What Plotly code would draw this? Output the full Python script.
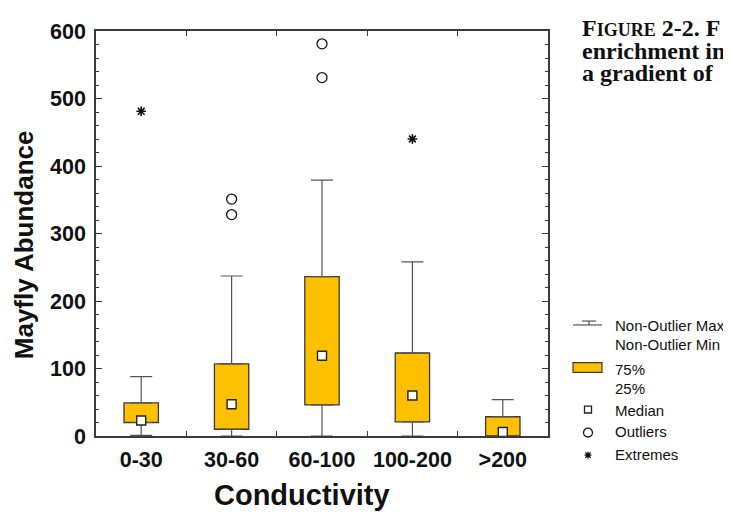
import plotly.graph_objects as go

# ---------------- data ----------------
categories = ["0-30", "30-60", "60-100", "100-200", ">200"]
q1 = [20, 10, 46, 21, 0]
median = [23, 47, 119, 60, 6]
q3 = [49, 107, 236, 123, 28.5]
whisker_min = [1, 0, 0, 0, 0]
whisker_max = [88, 237, 379, 258, 54]
outlier_x = ["30-60", "30-60", "60-100", "60-100"]
outlier_y = [351, 328, 581, 531]
extreme_x = ["0-30", "100-200"]
extreme_y = [481, 440]
y_ticks = [0, 100, 200, 300, 400, 500, 600]

# ---------------- style ----------------
BOX_FILL = "#FFC000"
EDGE = "#3a3a3a"
WHISK = "#555555"
FONT = "Arial, Liberation Sans, Helvetica, sans-serif"
SERIF = "Times New Roman, Liberation Serif, serif"

# page body has an 8px margin: the figure is placed at (8, 8) in the window
OFF = 8
W, H = 731 - OFF, 512 - OFF
# plot area in window pixels
PX0, PX1, PY0, PY1 = 96, 548, 22, 436
L, T = PX0 - OFF, PY0 - OFF
R, B = W - (PX1 - OFF), H - (PY1 - OFF)
PW, PH = PX1 - PX0, PY1 - PY0


def px(x):
    return (x - PX0) / PW


def py(y):
    return (PY1 - y) / PH


fig = go.Figure()

# boxes (25%-75%)
fig.add_bar(
    x=categories,
    y=[a - b for a, b in zip(q3, q1)],
    base=q1,
    width=0.38,
    marker=dict(color=BOX_FILL, line=dict(color=EDGE, width=1.3)),
    hoverinfo="skip",
)

# upper whiskers
fig.add_scatter(
    x=categories, y=q3, mode="markers",
    marker=dict(size=1, opacity=0),
    error_y=dict(type="data", symmetric=False,
                 array=[m - a for m, a in zip(whisker_max, q3)],
                 arrayminus=[0] * len(q3),
                 width=11, thickness=1.2, color=WHISK),
    hoverinfo="skip",
)
# lower whiskers
fig.add_scatter(
    x=categories, y=q1, mode="markers",
    marker=dict(size=1, opacity=0),
    error_y=dict(type="data", symmetric=False,
                 array=[0] * len(q1),
                 arrayminus=[a - m for a, m in zip(q1, whisker_min)],
                 width=11, thickness=1.2, color=WHISK),
    hoverinfo="skip",
)
# medians
fig.add_scatter(
    x=categories, y=median, mode="markers", cliponaxis=False,
    marker=dict(symbol="square", size=9, color="white",
                line=dict(color="#222", width=1.4)),
)
# outliers
fig.add_scatter(
    x=outlier_x, y=outlier_y, mode="markers", cliponaxis=False,
    marker=dict(symbol="circle-open", size=10, color="#111",
                line=dict(width=1.3)),
)
# extremes
fig.add_scatter(
    x=extreme_x, y=extreme_y, mode="markers", cliponaxis=False,
    marker=dict(symbol="asterisk-open", size=8, color="#111",
                line=dict(width=1.6)),
)

# ---------------- custom legend ----------------
shapes = []
ann = []
lx0, lx1, lxc = 573, 602, 588
# whisker icon
shapes.append(dict(type="line", xref="paper", yref="paper",
                   x0=px(lx0), x1=px(lx1), y0=py(322.5), y1=py(322.5),
                   line=dict(color=WHISK, width=1.2)))
shapes.append(dict(type="line", xref="paper", yref="paper",
                   x0=px(582), x1=px(596), y0=py(318.5), y1=py(318.5),
                   line=dict(color=WHISK, width=1.2)))
shapes.append(dict(type="line", xref="paper", yref="paper",
                   x0=px(589), x1=px(589), y0=py(318.5), y1=py(322.5),
                   line=dict(color=WHISK, width=1.2)))
# box icon
shapes.append(dict(type="rect", xref="paper", yref="paper",
                   x0=px(lx0), x1=px(lx1), y0=py(371), y1=py(361),
                   fillcolor=BOX_FILL, line=dict(color=EDGE, width=1.2)))
# median icon
shapes.append(dict(type="rect", xref="paper", yref="paper",
                   x0=px(lxc - 3.5), x1=px(lxc + 3.5), y0=py(412.5), y1=py(405.5),
                   fillcolor="white", line=dict(color="#222", width=1.3)))
# outlier icon
shapes.append(dict(type="circle", xref="paper", yref="paper",
                   x0=px(lxc - 4.5), x1=px(lxc + 4.5), y0=py(437), y1=py(428),
                   line=dict(color="#111", width=1.3)))
# extreme icon (asterisk)
cx, cy, r = lxc, 455.5, 3.5
star = (f"M {px(cx - r)} {py(cy)} L {px(cx + r)} {py(cy)} "
        f"M {px(cx)} {py(cy - r)} L {px(cx)} {py(cy + r)} "
        f"M {px(cx - r * 0.75)} {py(cy - r * 0.75)} L {px(cx + r * 0.75)} {py(cy + r * 0.75)} "
        f"M {px(cx - r * 0.75)} {py(cy + r * 0.75)} L {px(cx + r * 0.75)} {py(cy - r * 0.75)}")
shapes.append(dict(type="path", xref="paper", yref="paper", path=star,
                   line=dict(color="#111", width=1.4)))

legend_text = [
    ("Non-Outlier Max", 324.5),
    ("Non-Outlier Min", 343.5),
    ("75%", 369.5),
    ("25%", 388),
    ("Median", 410.5),
    ("Outliers", 432.5),
    ("Extremes", 455.5),
]
for t, yy in legend_text:
    ann.append(dict(text=t, xref="paper", yref="paper", x=px(613), y=py(yy - 1),
                    xanchor="left", yanchor="middle", showarrow=False,
                    font=dict(family=FONT, size=15, color="#111")))

# axis titles
ann.append(dict(text="Mayfly Abundance", xref="paper", yref="paper",
                x=px(24), y=py(241), textangle=-90, xanchor="center", yanchor="middle",
                showarrow=False, font=dict(family=FONT, size=26, color="#111", weight="bold")))
ann.append(dict(text="Conductivity", xref="paper", yref="paper",
                x=px(302), y=py(496), xanchor="center", yanchor="middle",
                showarrow=False, font=dict(family=FONT, size=29, color="#111", weight="bold")))

# caption (cut off at the right edge of the page)
cap_lines = [
    ("F<span style='font-size:18px'>IGURE</span> 2-2. F", 19),
    ("enrichment in", 42),
    ("a gradient of", 65),
]
for t, yy in cap_lines:
    ann.append(dict(text=t, xref="paper", yref="paper", x=px(580), y=py(yy),
                    xanchor="left", yanchor="middle", showarrow=False,
                    font=dict(family=SERIF, size=24, color="#111", weight="bold")))

fig.update_layout(
    width=W, height=H,
    margin=dict(l=L, r=R, t=T, b=B, pad=0),
    paper_bgcolor="white", plot_bgcolor="white",
    showlegend=False,
    shapes=shapes, annotations=ann,
    xaxis=dict(
        type="category", categoryorder="array", categoryarray=categories,
        range=[-0.5, 4.5], tickson="boundaries",
        ticks="inside", ticklen=5, tickwidth=1, tickcolor=EDGE,
        showline=True, linecolor=EDGE, linewidth=1.5, mirror="ticks",
        showgrid=False, zeroline=False,
        tickfont=dict(family=FONT, size=21.5, color="#111", weight="bold"),
        ticklabelstandoff=3,
    ),
    yaxis=dict(
        range=[0, 600], tickvals=y_ticks,
        ticks="inside", ticklen=6, tickwidth=1, tickcolor=EDGE,
        minor=dict(dtick=20, ticks="inside", ticklen=3, tickcolor=EDGE, tickwidth=1),
        showline=True, linecolor=EDGE, linewidth=1.5, mirror="ticks",
        showgrid=False, zeroline=False,
        tickfont=dict(family=FONT, size=21.5, color="#111", weight="bold"),
        ticklabelstandoff=4,
    ),
)

fig.write_html("out.html")
